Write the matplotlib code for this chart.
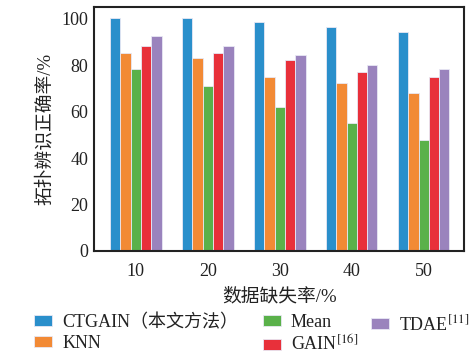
'''
Topology identification accuracy versus data missing rate for several imputation methods.
'''

import numpy as np
import matplotlib
matplotlib.use('Agg')
import matplotlib.pyplot as plt

MISSING_RATES = ['10', '20', '30', '40', '50']
METHODS = ['CTGAIN（本文方法）', 'KNN', 'Mean', 'GAIN$^{[16]}$', 'TDAE$^{[11]}$']
CTGAIN = [100.5, 100.5, 98.4, 96.4, 94.4]
KNN = [85.2, 83.2, 75.1, 72.2, 68.0]
MEAN = [78.2, 71.0, 61.9, 54.9, 47.6]
GAIN = [88.2, 85.2, 82.2, 77.2, 75.1]
TDAE = [92.4, 88.2, 84.2, 80.2, 78.2]
COLORS = ['#2a8fcb', '#f28a35', '#5ab14a', '#e8303a', '#9a83bd']

plt.rcParams['font.family'] = ['Liberation Serif', 'Noto Sans CJK SC']
plt.rcParams['mathtext.fontset'] = 'stix'

TEXT_COLOR = '#222222'


def main():
    series = [CTGAIN, KNN, MEAN, GAIN, TDAE]
    x = np.arange(len(MISSING_RATES))
    width = 0.143

    fig = plt.figure(figsize=(4.73, 3.56), dpi=100)
    ax = fig.add_axes([0.199, 0.295, 0.782, 0.685])

    bars = []
    for i, (vals, name, col) in enumerate(zip(series, METHODS, COLORS)):
        b = ax.bar(x + (i - 2) * width, vals, width=width, color=col,
                   edgecolor='#e8e8f4', linewidth=0.6, label=name)
        bars.append(b)

    ax.set_xlim(-0.58, 4.56)
    ax.set_ylim(0, 105)
    ax.set_yticks([0, 20, 40, 60, 80, 100])
    ax.set_xticks(x)
    ax.set_xticklabels(MISSING_RATES)
    ax.tick_params(axis='both', length=0, labelsize=13, colors=TEXT_COLOR, pad=4)
    ax.tick_params(axis='x', pad=9)
    for s in ax.spines.values():
        s.set_linewidth(1.5)
        s.set_color(TEXT_COLOR)

    ax.set_xlabel('数据缺失率/%', fontsize=13.5, color=TEXT_COLOR, labelpad=5)
    ax.set_ylabel('拓扑辨识正确率/%', fontsize=13.5, color=TEXT_COLOR, labelpad=6)

    # legend laid out as three separate columns below the axes
    columns = [([0, 1], 0.072), ([2, 3], 0.555), ([4], 0.785)]
    for idx, left in columns:
        fig.legend([bars[k] for k in idx], [METHODS[k] for k in idx],
                   loc='upper left', bbox_to_anchor=(left, 0.118),
                   bbox_transform=fig.transFigure,
                   frameon=False, fontsize=13, handlelength=1.0,
                   handleheight=0.55, labelspacing=0.22, handletextpad=0.55,
                   borderaxespad=0, borderpad=0, labelcolor=TEXT_COLOR)

    fig.savefig('out.png', dpi=100)


if __name__ == '__main__':
    main()
